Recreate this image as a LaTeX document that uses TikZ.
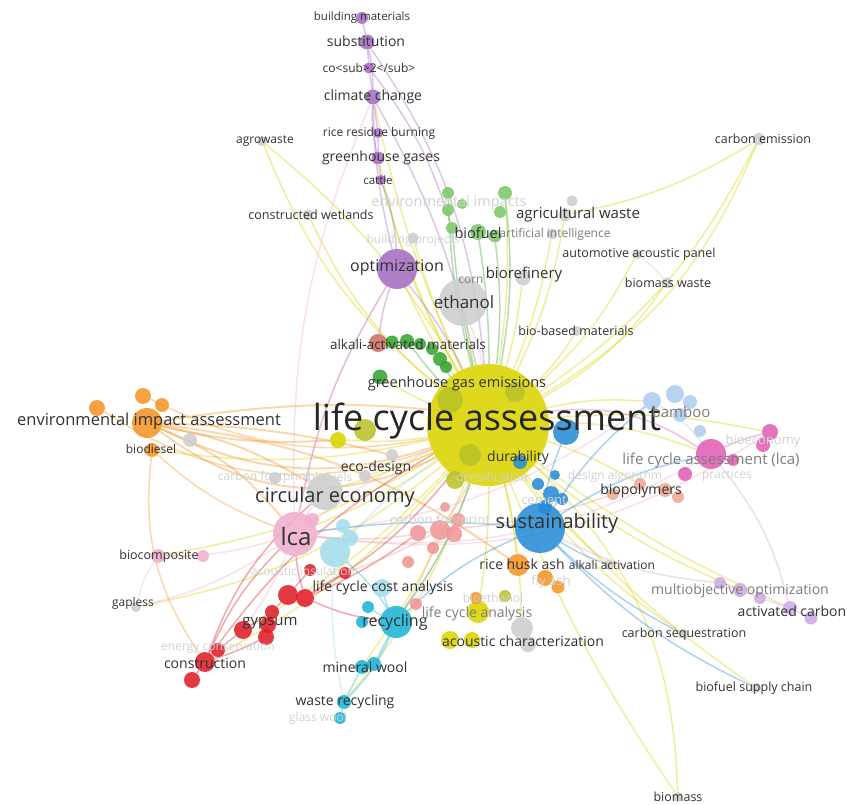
\documentclass[tikz,border=0pt]{standalone}
\usepackage{fontspec}
\setmainfont{Open Sans}
\definecolor{vyellow}{RGB}{218,212,0}
\definecolor{vyellowgreen}{RGB}{185,195,40}
\definecolor{vpurple}{RGB}{165,110,195}
\definecolor{vgreen}{RGB}{55,165,50}
\definecolor{vlgreen}{RGB}{125,200,105}
\definecolor{vgrey}{RGB}{205,205,205}
\definecolor{vorange}{RGB}{245,150,40}
\definecolor{vblue}{RGB}{40,140,215}
\definecolor{vlblue}{RGB}{175,205,240}
\definecolor{vmagenta}{RGB}{225,95,180}
\definecolor{vpink}{RGB}{240,175,205}
\definecolor{vred}{RGB}{225,30,40}
\definecolor{vsalmon}{RGB}{240,150,150}
\definecolor{vcyan}{RGB}{30,180,215}
\definecolor{vlcyan}{RGB}{165,220,235}
\definecolor{vlpurple}{RGB}{205,170,225}
\definecolor{vbrown}{RGB}{210,110,95}
\definecolor{vpeach}{RGB}{235,170,150}
\definecolor{kwtext}{RGB}{50,50,50}
\definecolor{kwgray}{RGB}{125,125,125}
\definecolor{kwfaint}{RGB}{210,210,210}
\pgfdeclarelayer{edges}
\pgfsetlayers{edges,main}
\begin{document}
\begin{tikzpicture}[x=1pt, y=-1pt,
  bub/.style={circle, inner sep=0pt, minimum size=#1, draw=none, fill opacity=0.88},
  kw/.style={font=\fontsize{#1}{#1}\selectfont, text=kwtext, inner sep=0pt},
  dim/.style={text=kwgray},
  faint/.style={text=kwfaint},
  link/.style={draw=#1, line width=1.5pt, draw opacity=0.38}]
\useasboundingbox (0,0) rectangle (847,805);
% purple cluster
\node[bub=12pt, fill=vpurple] (bm) at (362,18) {};
\node[bub=15pt, fill=vpurple] (subs) at (367,42) {};
\node[bub=11pt, fill=vpurple] (co2) at (369,68) {};
\node[bub=15pt, fill=vpurple] (cc) at (373,97) {};
\node[bub=10pt, fill=vpurple] (rrb) at (378,133) {};
\node[bub=13pt, fill=vpurple] (ghg) at (378,158) {};
\node[bub=10pt, fill=vpurple] (cattle) at (381,180) {};
\node[bub=40pt, fill=vpurple] (opt) at (397,269) {};
% grey cluster
\node[bub=10pt, fill=vgrey] (agro) at (262,141) {};
\node[bub=11pt, fill=vgrey] (cw) at (308,215) {};
\node[bub=12pt, fill=vgrey] (ce) at (759,139) {};
\node[bub=11pt, fill=vgrey] (bp) at (413,238) {};
\node[bub=13pt, fill=vgrey] (aw) at (565,215) {};
\node[bub=11pt, fill=vgrey] (aw2) at (572,201) {};
\node[bub=11pt, fill=vgrey] (ai) at (552,234) {};
\node[bub=10pt, fill=vgrey] (aap) at (637,254) {};
\node[bub=15pt, fill=vgrey] (bioref) at (523,278) {};
\node[bub=48pt, fill=vgrey] (eth) at (463,302) {};
\node[bub=11pt, fill=vgrey] (bw) at (667,283) {};
\node[bub=10pt, fill=vgrey] (bbm) at (577,331) {};
\node[bub=14pt, fill=vgrey] (g1) at (190,440) {};
\node[bub=12pt, fill=vgrey] (g2) at (275,478) {};
\node[bub=36pt, fill=vgrey] (circ) at (325,492) {};
\node[bub=12pt, fill=vgrey] (eco) at (365,476) {};
\node[bub=12pt, fill=vgrey] (eco2) at (392,455) {};
\node[bub=10pt, fill=vgrey] (gap) at (136,607) {};
\node[bub=10pt, fill=vgrey] (aa) at (609,565) {};
\node[bub=22pt, fill=vgrey] (ach) at (522,628) {};
\node[bub=16pt, fill=vgrey] (ach2) at (528,644) {};
\node[bub=10pt, fill=vgrey] (cs) at (683,634) {};
\node[bub=10pt, fill=vgrey] (bsc) at (756,688) {};
\node[bub=10pt, fill=vgrey] (biomass) at (678,797) {};
% green cluster
\node[bub=12pt, fill=vlgreen] (gA) at (448,193) {};
\node[bub=12pt, fill=vlgreen] (gB) at (448,210) {};
\node[bub=10pt, fill=vlgreen] (gC) at (462,204) {};
\node[bub=12pt, fill=vlgreen] (gD) at (452,228) {};
\node[bub=14pt, fill=vlgreen] (gE) at (505,193) {};
\node[bub=12pt, fill=vlgreen] (gF) at (500,212) {};
\node[bub=16pt, fill=vlgreen] (gG) at (478,232) {};
\node[bub=13pt, fill=vlgreen] (gH) at (495,236) {};
\node[bub=18pt, fill=vbrown] (alkm) at (378,343) {};
\node[bub=13pt, fill=vgreen] (gI) at (392,342) {};
\node[bub=14pt, fill=vgreen] (gJ) at (407,341) {};
\node[bub=12pt, fill=vgreen] (gK) at (420,344) {};
\node[bub=12pt, fill=vgreen] (gL) at (432,349) {};
\node[bub=14pt, fill=vgreen] (gM) at (440,359) {};
\node[bub=12pt, fill=vgreen] (gN) at (446,367) {};
\node[bub=15pt, fill=vgreen] (gge) at (380,377) {};
% yellow cluster
\node[bub=122pt, fill=vyellow] (lcaN) at (488,425) {};
\node[bub=26pt, fill=vyellowgreen] (yi1) at (450,400) {};
\node[bub=20pt, fill=vyellowgreen] (yi2) at (515,392) {};
\node[bub=22pt, fill=vyellowgreen] (yi3) at (470,455) {};
\node[bub=18pt, fill=vyellowgreen] (yi4) at (455,480) {};
\node[bub=16pt, fill=vyellow] (y1) at (338,440) {};
\node[bub=22pt, fill=vyellowgreen] (y2) at (365,430) {};
\node[bub=22pt, fill=vyellow] (lcan) at (478,612) {};
\node[bub=18pt, fill=vyellow] (y3) at (450,640) {};
\node[bub=16pt, fill=vyellow] (y4) at (472,640) {};
\node[bub=12pt, fill=vyellowgreen] (y5) at (505,596) {};
% blue cluster
\node[bub=50pt, fill=vblue] (sust) at (540,528) {};
\node[bub=26pt, fill=vblue] (bl1) at (566,432) {};
\node[bub=14pt, fill=vblue] (bl2) at (520,462) {};
\node[bub=12pt, fill=vblue] (bl3) at (538,484) {};
\node[bub=16pt, fill=vblue] (bl4) at (551,494) {};
\node[bub=12pt, fill=vblue] (bl5) at (562,499) {};
\node[bub=10pt, fill=vblue] (bl6) at (555,475) {};
\node[bub=14pt, fill=vblue] (bl7) at (545,507) {};
% light blue cluster
\node[bub=18pt, fill=vlblue] (bam1) at (652,401) {};
\node[bub=18pt, fill=vlblue] (bam2) at (675,394) {};
\node[bub=14pt, fill=vlblue] (bam3) at (690,402) {};
\node[bub=14pt, fill=vlblue] (bam4) at (680,415) {};
\node[bub=12pt, fill=vlblue] (bam5) at (700,431) {};
% magenta cluster
\node[bub=30pt, fill=vmagenta] (lcal) at (711,454) {};
\node[bub=16pt, fill=vmagenta] (mb1) at (770,432) {};
\node[bub=14pt, fill=vmagenta] (mb2) at (763,445) {};
\node[bub=12pt, fill=vmagenta] (mb3) at (733,460) {};
\node[bub=14pt, fill=vmagenta] (mb4) at (685,474) {};
% biopolymers
\node[bub=12pt, fill=vpeach] (bpol1) at (613,494) {};
\node[bub=12pt, fill=vpeach] (bpol2) at (640,484) {};
\node[bub=14pt, fill=vpeach] (bpol3) at (665,490) {};
\node[bub=12pt, fill=vpeach] (bpol4) at (678,497) {};
% orange cluster
\node[bub=30pt, fill=vorange] (eia) at (147,423) {};
\node[bub=16pt, fill=vorange] (o1) at (97,408) {};
\node[bub=16pt, fill=vorange] (o2) at (143,396) {};
\node[bub=14pt, fill=vorange] (o3) at (162,405) {};
\node[bub=14pt, fill=vorange] (biod) at (152,450) {};
\node[bub=22pt, fill=vorange] (rha) at (518,565) {};
\node[bub=16pt, fill=vorange] (fa1) at (545,578) {};
\node[bub=13pt, fill=vorange] (fa2) at (558,587) {};
\node[bub=12pt, fill=vorange] (bioeth) at (476,598) {};
% pink cluster
\node[bub=44pt, fill=vpink] (lcap) at (295,534) {};
\node[bub=14pt, fill=vpink] (pk2) at (312,520) {};
\node[bub=14pt, fill=vpink] (bcomp) at (158,556) {};
\node[bub=12pt, fill=vpink] (bcomp2) at (203,556) {};
% light cyan
\node[bub=30pt, fill=vlcyan] (lb1) at (335,552) {};
\node[bub=16pt, fill=vlcyan] (lb2) at (350,538) {};
\node[bub=14pt, fill=vlcyan] (lb3) at (343,526) {};
\node[bub=18pt, fill=vlcyan] (lcca) at (382,588) {};
% red cluster
\node[bub=12pt, fill=vred] (r1) at (310,570) {};
\node[bub=12pt, fill=vred] (r2) at (345,573) {};
\node[bub=20pt, fill=vred] (r3) at (288,595) {};
\node[bub=18pt, fill=vred] (r4) at (305,598) {};
\node[bub=14pt, fill=vred] (r5) at (272,612) {};
\node[bub=16pt, fill=vred] (r6) at (268,625) {};
\node[bub=18pt, fill=vred] (r7) at (243,630) {};
\node[bub=16pt, fill=vred] (r8) at (266,637) {};
\node[bub=14pt, fill=vred] (r9) at (218,650) {};
\node[bub=20pt, fill=vred] (r10) at (205,662) {};
\node[bub=16pt, fill=vred] (r11) at (192,680) {};
% salmon cluster
\node[bub=16pt, fill=vsalmon] (s1) at (418,533) {};
\node[bub=20pt, fill=vsalmon] (s2) at (440,530) {};
\node[bub=14pt, fill=vsalmon] (s3) at (458,520) {};
\node[bub=12pt, fill=vsalmon] (s4) at (433,548) {};
\node[bub=16pt, fill=vsalmon] (s5) at (454,534) {};
\node[bub=12pt, fill=vsalmon] (s6) at (408,562) {};
\node[bub=12pt, fill=vsalmon] (s7) at (416,604) {};
\node[bub=10pt, fill=vsalmon] (s8) at (445,507) {};
% cyan cluster
\node[bub=12pt, fill=vcyan] (c1) at (368,607) {};
\node[bub=12pt, fill=vcyan] (c2) at (362,622) {};
\node[bub=32pt, fill=vcyan] (rec) at (396,622) {};
\node[bub=14pt, fill=vcyan] (mw1) at (362,667) {};
\node[bub=14pt, fill=vcyan] (mw2) at (374,664) {};
\node[bub=14pt, fill=vcyan] (wr) at (344,702) {};
\node[bub=12pt, fill=vcyan] (gw) at (340,718) {};
% light purple cluster
\node[bub=12pt, fill=vlpurple] (mo1) at (720,583) {};
\node[bub=14pt, fill=vlpurple] (mo2) at (740,590) {};
\node[bub=12pt, fill=vlpurple] (mo3) at (760,598) {};
\node[bub=14pt, fill=vlpurple] (ac1) at (790,608) {};
\node[bub=13pt, fill=vlpurple] (ac2) at (811,618) {};
% links
\begin{pgfonlayer}{edges}
\fill[white] (0,0) rectangle (847,805);
\foreach \n/\bb in {agro/14, cw/12, cattle/6, ghg/8, cc/6, opt/4, bp/4, gE/-6, aw/-8, ai/-6,
  ce/-14, aap/-10, bw/-12, bioref/-4, eth/2, bbm/-6, bam1/8, lcal/10, bpol2/6, mb1/8,
  cs/-10, bsc/-8, biomass/-6, ac1/-6, mo2/-8, aa/-6, rha/4, ach/6, lcan/4, rec/8,
  mw1/6, wr/10, r10/10, r7/8, gap/14, bcomp/10, lcap/6, circ/4, eco/4, biod/10, gge/4, y1/6}
  \draw[link=vyellow] (lcaN) to[bend left=\bb] (\n);
\draw[link=vyellow] (ce) to[bend left=10] (aw);
\draw[link=vyellow] (lcaN) to[bend right=18] (ce);
\draw[link=vyellow] (lcaN) to[bend left=22] (biomass);
\draw[link=vyellow] (lcaN) to[bend right=10] (agro);
% orange links
\foreach \n/\bb in {lcaN/-22, lcaN/-32, bl1/10, circ/10, rha/14, y1/-8, lcap/14, eco2/6}
  \draw[link=vorange, line width=2pt] (eia) to[bend left=\bb] (\n);
\draw[link=vorange] (o1) to[bend left=-26] (lcaN);
\draw[link=vorange] (o2) to[bend left=-18] (lcaN);
\draw[link=vorange] (biod) to[bend right=10] (lcap);
\draw[link=vorange] (biod) to[bend right=20] (r10);
% purple links
\draw[link=vpurple] (bm) -- (subs) -- (co2) -- (cc) -- (rrb) -- (ghg) -- (cattle);
\draw[link=vpurple] (subs) to[bend left=6] (cc);
\draw[link=vpurple] (cc) to[bend right=8] (ghg);
\draw[link=vpurple] (cattle) to[bend left=8] (opt);
\draw[link=vpurple] (cc) to[bend right=6] (opt);
\draw[link=vpurple] (subs) to[bend left=14] (lcaN);
\draw[link=vpurple] (co2) to[bend left=10] (gD);
\draw[link=vpurple] (cc) to[bend left=8] (lcaN);
\draw[link=vpurple] (opt) to[bend right=6] (alkm);
\draw[link=vpurple] (opt) to[bend left=6] (lcaN);
\draw[link=vpurple] (opt) to[bend right=10] (lcap);
% pink links
\foreach \n/\bb in {lcaN/6, circ/4, bcomp/8, r7/6, lcal/-18, bam1/-14, mb1/-20, opt/10, gap/10, cc/12}
  \draw[link=vpink] (lcap) to[bend left=\bb] (\n);
\draw[link=vpink] (bcomp) -- (bcomp2);
\draw[link=vgrey] (gap) to[bend left=10] (bcomp);
% red links
\draw[link=vred] (r1) -- (r3) -- (r5) -- (r7) -- (r9) -- (r10) -- (r11);
\foreach \n/\bb in {lcap/6, rec/-8, lcaN/-10, s1/-6, r2/4}
  \draw[link=vred] (r4) to[bend left=\bb] (\n);
\foreach \n/\bb in {lcap/-10, lcaN/-12, circ/-14, r8/4}
  \draw[link=vred] (r10) to[bend right=\bb] (\n);
% salmon links
\foreach \n/\bb in {lcaN/-6, lcap/8, rec/6, bpol2/-8, r2/4}
  \draw[link=vsalmon] (s2) to[bend left=\bb] (\n);
% cyan links
\draw[link=vcyan] (rec) -- (mw2) -- (mw1) -- (wr) -- (gw);
\foreach \n/\bb in {lcca/6, c1/4, lb1/-8, wr/10, lcaN/-8}
  \draw[link=vcyan] (rec) to[bend left=\bb] (\n);
\draw[link=vlcyan] (lb1) to[bend right=8] (wr);
\draw[link=vlcyan] (lb1) to[bend left=6] (lcaN);
% light purple links
\draw[link=vlpurple] (mo1) -- (mo2) -- (mo3) -- (ac1) -- (ac2);
\draw[link=vlpurple] (mo1) to[bend left=10] (sust);
\draw[link=vlpurple] (ac1) to[bend right=12] (lcal);
% blue links
\foreach \n/\bb in {bl1/6, bam1/8, lcal/10, cs/-8, aa/-6, rec/-10, bsc/-10, lcap/-6}
  \draw[link=vblue] (sust) to[bend left=\bb] (\n);
\draw[link=vlblue] (bam1) to[bend left=10] (lcal);
\draw[link=vmagenta] (lcal) to[bend left=6] (mb1);
\draw[link=vmagenta] (lcal) to[bend right=20] (lcaN);
% green links
\foreach \n/\bb in {gA/6, gD/4, gG/-4, gH/-6, gJ/4, gM/2, gE/-8}
  \draw[link=vgreen] (lcaN) to[bend left=\bb] (\n);
\draw[link=vgrey] (aap) to[bend left=6] (bw);
\draw[link=vgrey] (eth) to[bend left=6] (lcaN);
\end{pgfonlayer}
% labels
\node[kw=11.5] (bm-t) at (362,18) {building materials};
\node[kw=14] (subs-t) at (366,41) {substitution};
\node[kw=12] (co2-t) at (369,68) {co<sub>2</sub>};
\node[kw=14] (cc-t) at (373,97) {climate change};
\node[kw=12] (rrb-t) at (379,133) {rice residue burning};
\node[kw=14] (ghg-t) at (381,158) {greenhouse gases};
\node[kw=11.5] (cattle-t) at (378,180) {cattle};
\node[kw=12] (agro-t) at (265,141) {agrowaste};
\node[kw=12.5] (cw-t) at (311,215) {constructed wetlands};
\node[kw=12.5] (ce-t) at (763,139) {carbon emission};
\node[kw=14.5, faint] (ei-t) at (449,203) {environmental impacts};
\node[kw=15] (aw-t) at (578,215) {agricultural waste};
\node[kw=14.5] (gG-t) at (478,233) {biofuel};
\node[kw=12, dim] (ai-t) at (555,234) {artificial intelligence};
\node[kw=12, faint] (bp-t) at (413,240) {building projects};
\node[kw=12.5] (aap-t) at (639,254) {automotive acoustic panel};
\node[kw=16] (opt-t) at (397,268) {optimization};
\node[kw=12, dim] (corn-t) at (471,280) {corn};
\node[kw=15] (bioref-t) at (524,275) {biorefinery};
\node[kw=12.5] (bw-t) at (668,283) {biomass waste};
\node[kw=17] (eth-t) at (464,302) {ethanol};
\node[kw=12.5] (bbm-t) at (576,331) {bio-based materials};
\node[kw=13.5] (alkm-t) at (408,344) {alkali-activated materials};
\node[kw=14.5] (gge-t) at (457,384) {greenhouse gas emissions};
\node[kw=16.5] (eia-t) at (149,421) {environmental impact assessment};
\node[kw=36, text=black!85] (lcaN-t) at (487,421) {life cycle assessment};
\node[kw=15, dim] (bam-t) at (681,412) {bamboo};
\node[kw=12] (biod-t) at (151,449) {biodiesel};
\node[kw=14] (eco-t) at (376,468) {eco-design};
\node[kw=13, faint] (beco-t) at (763,441) {bioeconomy};
\node[kw=15, dim] (lcal-t) at (711,461) {life cycle assessment (lca)};
\node[kw=14] (dur-t) at (518,458) {durability};
\node[kw=12, faint] (cfp-t) at (264,477) {carbon footprint};
\node[kw=12, faint] (bfs-t) at (330,477) {biofuels};
\node[kw=12, faint] (dens-t) at (492,477) {densification};
\node[kw=12, faint] (dalg-t) at (615,476) {design algorithm};
\node[kw=12, faint] (prac-t) at (727,476) {practices};
\node[kw=14] (bpol-t) at (641,491) {biopolymers};
\node[kw=20] (circ-t) at (335,497) {circular economy};
\node[kw=13, faint] (cem-t) at (544,500) {cement};
\node[kw=13, faint] (cfp2-t) at (440,521) {carbon footprint};
\node[kw=20] (sust-t) at (557,523) {sustainability};
\node[kw=24] (lcap-t) at (296,536) {lca};
\node[kw=12.5] (bcomp-t) at (159,556) {biocomposite};
\node[kw=12, faint] (ains-t) at (303,571) {acoustic insulation};
\node[kw=14] (rha-t) at (522,564) {rice husk ash};
\node[kw=12] (aa-t) at (612,565) {alkali activation};
\node[kw=13, faint] (fa-t) at (551,582) {fly ash};
\node[kw=14] (lcca-t) at (383,588) {life cycle cost analysis};
\node[kw=14, dim] (mo-t) at (740,591) {multiobjective optimization};
\node[kw=12, faint] (bioeth-t) at (493,598) {bioethanol};
\node[kw=12] (gap-t) at (133,603) {gapless};
\node[kw=14] (ac-t) at (792,611) {activated carbon};
\node[kw=14, dim] (lcan-t) at (477,614) {life cycle analysis};
\node[kw=16] (rec-t) at (395,622) {recycling};
\node[kw=15] (gyp-t) at (270,623) {gypsum};
\node[kw=12.5] (cs-t) at (684,634) {carbon sequestration};
\node[kw=14] (ach-t) at (523,641) {acoustic characterization};
\node[kw=12, faint] (ec-t) at (218,648) {energy conservation};
\node[kw=14] (constr-t) at (205,663) {construction};
\node[kw=14] (mw-t) at (365,667) {mineral wool};
\node[kw=12.5] (bsc-t) at (754,688) {biofuel supply chain};
\node[kw=14] (wr-t) at (345,702) {waste recycling};
\node[kw=12, faint] (gw-t) at (318,718) {glass wool};
\node[kw=12.5] (biomass-t) at (678,797) {biomass};
\end{tikzpicture}
\end{document}
